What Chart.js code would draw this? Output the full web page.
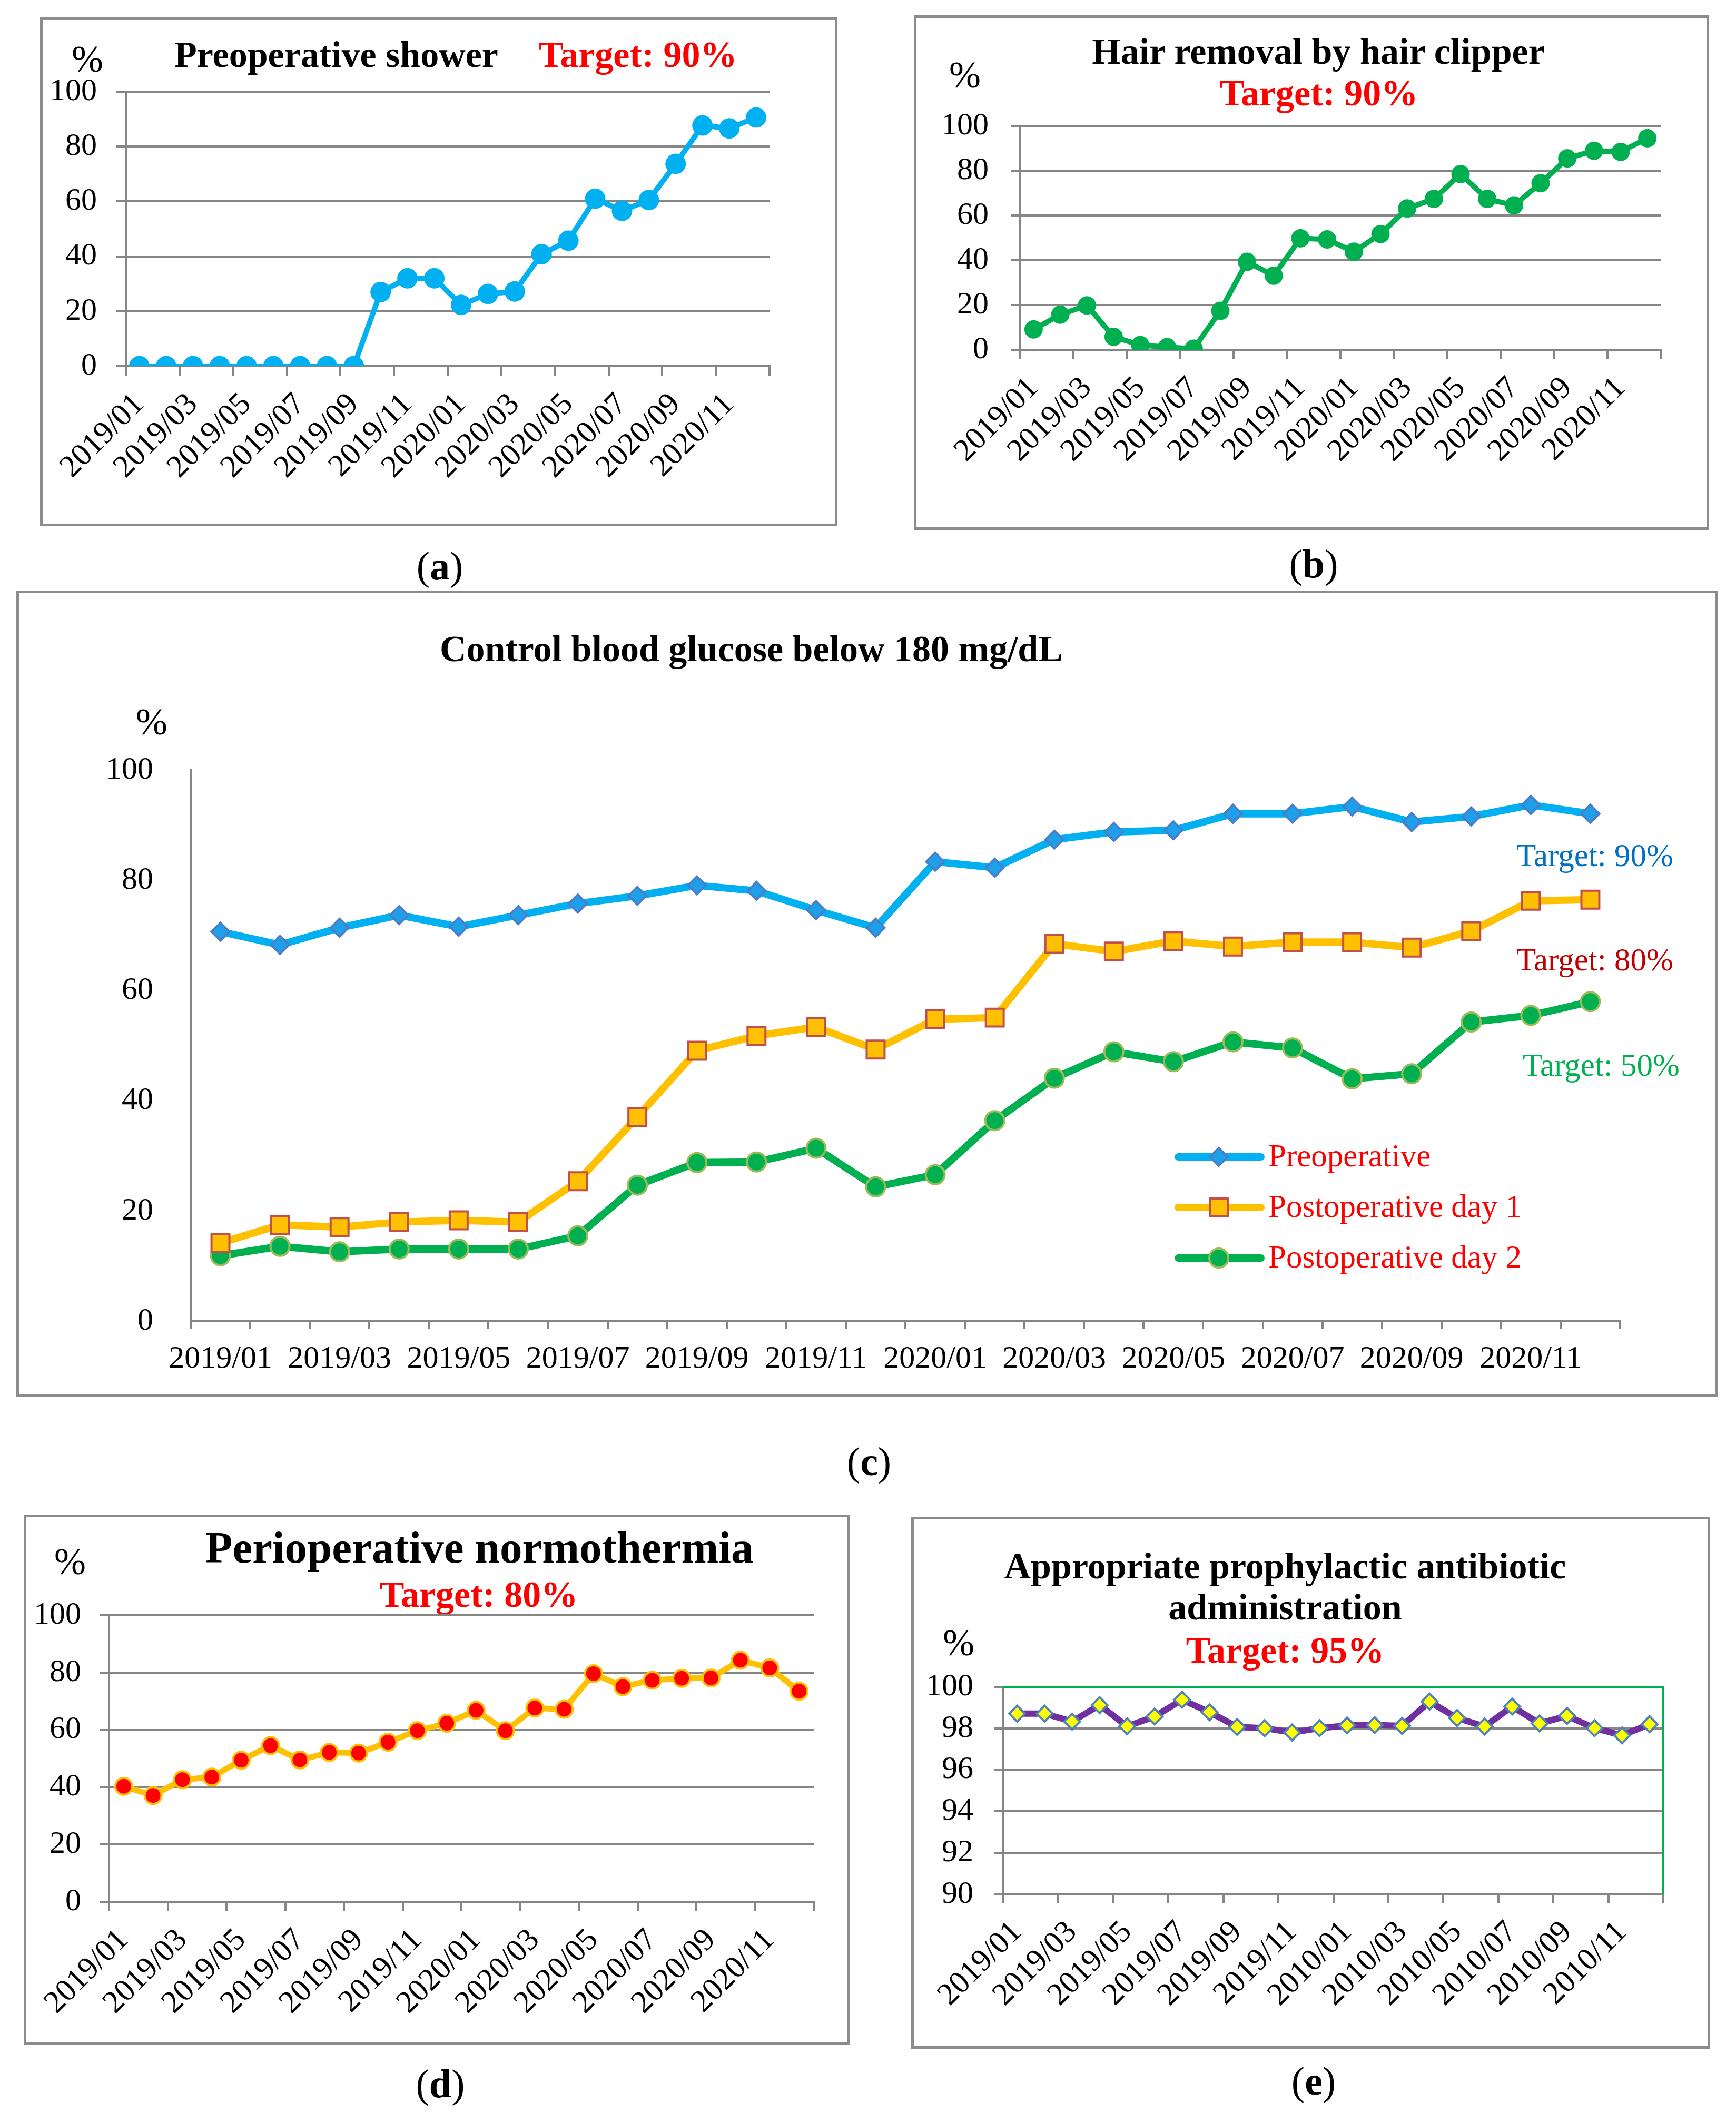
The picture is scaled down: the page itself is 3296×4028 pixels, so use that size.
<!DOCTYPE html>
<html>
<head>
<meta charset="utf-8">
<script src="https://cdn.jsdelivr.net/npm/chart.js"></script>
<style>
  body { margin: 0; background: #fff; }
  #page { position: relative; width: 3296px; height: 4028px; font-family: "Liberation Serif", "Times New Roman", serif; }
  .box { position: absolute; box-sizing: border-box; border: 5px solid #8c8c8c; }
  .txt { position: absolute; white-space: nowrap; line-height: 1; }
  canvas { position: absolute; }
</style>
</head>
<body>
<div id="page"></div>
<script>
// months on the x axis
const months = ['2019/01', '2019/02', '2019/03', '2019/04', '2019/05', '2019/06', '2019/07', '2019/08', '2019/09', '2019/10', '2019/11', '2019/12',
    '2020/01', '2020/02', '2020/03', '2020/04', '2020/05', '2020/06', '2020/07', '2020/08', '2020/09', '2020/10', '2020/11', '2020/12']
// panel (e) carries "2010" in its labels
const monthsE = ['2019/01', '2019/02', '2019/03', '2019/04', '2019/05', '2019/06', '2019/07', '2019/08', '2019/09', '2019/10', '2019/11', '2019/12',
    '2010/01', '2010/02', '2010/03', '2010/04', '2010/05', '2010/06', '2010/07', '2010/08', '2010/09', '2010/10', '2010/11', '2010/12']

const showerData = [0, 0, 0, 0, 0, 0, 0, 0, 0, 27.0, 32.0, 32.0, 22.3, 26.3, 27.2, 40.8, 45.7, 61.0, 56.6, 60.5, 73.7, 87.7, 86.6, 90.6]
const clipperData = [9.1, 15.7, 19.8, 5.8, 2.1, 1.2, 0.5, 17.4, 39.3, 33.1, 49.8, 49.3, 43.8, 51.7, 63.1, 67.4, 78.5, 67.4, 64.5, 74.4, 85.5, 88.9, 88.4, 94.5]
const glucosePre = [70.7, 68.3, 71.4, 73.7, 71.6, 73.7, 75.8, 77.2, 79.1, 78.1, 74.6, 71.4, 83.4, 82.3, 87.4, 88.8, 89.1, 92.1, 92.1, 93.4, 90.6, 91.6, 93.7, 92.1]
const glucoseDay1 = [14.2, 17.5, 17.1, 18.0, 18.3, 18.0, 25.4, 37.1, 49.1, 51.8, 53.4, 49.3, 54.8, 55.1, 68.5, 67.1, 69.0, 68.0, 68.8, 68.8, 67.8, 70.8, 76.3, 76.5]
const glucoseDay2 = [11.9, 13.6, 12.6, 13.1, 13.1, 13.1, 15.5, 24.7, 28.8, 28.9, 31.4, 24.4, 26.6, 36.4, 44.1, 48.9, 47.1, 50.7, 49.6, 44.0, 44.9, 54.3, 55.5, 58.0]
const normoData = [40.3, 37.1, 42.6, 43.5, 49.4, 54.5, 49.5, 52.1, 51.9, 55.7, 59.7, 62.3, 66.8, 59.7, 67.6, 67.2, 79.6, 75.1, 77.3, 78.0, 78.1, 84.3, 81.6, 73.5]
const antibioticData = [98.71, 98.71, 98.33, 99.12, 98.10, 98.57, 99.38, 98.78, 98.07, 98.01, 97.80, 98.01, 98.14, 98.16, 98.12, 99.29, 98.50, 98.09, 99.05, 98.24, 98.60, 98.01, 97.66, 98.20]

const glucoseNames = ['Preoperative', 'Postoperative day 1', 'Postoperative day 2']

const page = document.getElementById('page')
const GRAY = '#868686'
const FONT = '"Liberation Serif", "Times New Roman", serif'

function box(l, t, r, b) {
    const d = document.createElement('div')
    d.className = 'box'
    d.style.left = l + 'px'
    d.style.top = t + 'px'
    d.style.width = (r - l) + 'px'
    d.style.height = (b - t) + 'px'
    page.appendChild(d)
}

// x = left edge (or centre when center is true), base = baseline
function text(html, x, base, size, color, bold, center) {
    const d = document.createElement('div')
    d.className = 'txt'
    d.innerHTML = html
    d.style.fontSize = size + 'px'
    d.style.color = color || '#000'
    d.style.fontWeight = bold ? 'bold' : 'normal'
    d.style.top = (base - 0.8375 * size) + 'px'
    d.style.left = x + 'px'
    if (center) d.style.transform = 'translateX(-50%)'
    page.appendChild(d)
}

function canvasAt(l, t, r, b) {
    const c = document.createElement('canvas')
    c.width = r - l
    c.height = b - t
    c.style.left = l + 'px'
    c.style.top = t + 'px'
    c.style.width = (r - l) + 'px'
    c.style.height = (b - t) + 'px'
    page.appendChild(c)
    return c.getContext('2d')
}

// every other x tick mark, like the excel charts
const everyOther = ctx => (ctx.index === undefined || ctx.index % 2 === 0) ? GRAY : 'rgba(0,0,0,0)'

// chart.js keeps half a tick label + tick padding above the plot,
// so each canvas starts (36 + yPad) px above its plot top
function lineChart(ctx, cfg) {
    const rotated = cfg.rotated !== false
    return new Chart(ctx, {
        type: 'line',
        data: {
            labels: cfg.labels,
            datasets: cfg.datasets
        },
        options: {
            responsive: false,
            animation: false,
            devicePixelRatio: 1,
            layout: { padding: { top: 0, right: cfg.padRight, left: 0, bottom: 0 } },
            plugins: { legend: { display: false }, tooltip: { enabled: false } },
            scales: {
                x: {
                    offset: true,
                    grid: {
                        offset: true,
                        drawOnChartArea: false,
                        tickLength: cfg.xTick,
                        lineWidth: 4,
                        color: rotated ? everyOther : GRAY
                    },
                    border: { color: GRAY, width: 4 },
                    ticks: {
                        autoSkip: false,
                        minRotation: rotated ? 45 : 0,
                        maxRotation: rotated ? 45 : 0,
                        padding: cfg.xPad,
                        color: '#000',
                        font: { family: FONT, size: 60 },
                        callback: function (v, i) { return i % 2 === 0 ? this.getLabelForValue(v) : '' }
                    },
                    afterFit: s => { s.height = cfg.xHeight }
                },
                y: {
                    min: cfg.min,
                    max: cfg.max,
                    grid: {
                        display: cfg.yGrid !== false,
                        color: GRAY,
                        lineWidth: 4,
                        tickLength: 18
                    },
                    border: { color: GRAY, width: 4 },
                    ticks: {
                        autoSkip: false,
                        stepSize: cfg.step,
                        padding: cfg.yPad,
                        color: '#000',
                        font: { family: FONT, size: 60 }
                    },
                    afterFit: s => { s.width = cfg.yWidth }
                }
            }
        },
        plugins: cfg.plugins || []
    })
}

function series(label, data, line, width, style, radius, fill, border, bw) {
    return {
        label: label,
        data: data,
        borderColor: line,
        backgroundColor: line,
        borderWidth: width,
        borderJoinStyle: 'round',
        borderCapStyle: 'round',
        tension: 0,
        pointStyle: style,
        pointRadius: radius,
        pointBackgroundColor: fill,
        pointBorderColor: border,
        pointBorderWidth: bw
    }
}

function marker(c, style, x, y, r) {
    c.beginPath()
    if (style === 'circle') {
        c.arc(x, y, r, 0, Math.PI * 2)
    } else if (style === 'rect') {
        const s = r * Math.SQRT1_2
        c.rect(x - s, y - s, 2 * s, 2 * s)
    } else {
        c.moveTo(x, y - r); c.lineTo(x + r, y); c.lineTo(x, y + r); c.lineTo(x - r, y); c.closePath()
    }
    c.fill()
    c.stroke()
}

// ---------- (a) Preoperative shower ----------
box(76, 33, 1590, 999)
text('%', 166, 136, 72, '#000', false, true)
text('Preoperative shower', 331, 128, 70, '#000', true)
text('Target: 90%', 1023, 128, 70, '#ff0000', true)
text('(<b>a</b>)', 835, 1100, 76, '#000', false, true)
lineChart(canvasAt(80, 101, 1560, 990), {
    labels: months,
    datasets: [series('Preoperative shower', showerData, '#00B0F0', 10, 'circle', 19, '#00B0F0', '#00B0F0', 1)],
    min: 0, max: 100, step: 20,
    padRight: 99, yWidth: 159, xHeight: 295,
    yPad: 37, xTick: 18, xPad: 20
})

// ---------- (b) Hair removal by hair clipper ----------
box(1735, 29, 3245, 1006)
text('%', 1832, 166, 72, '#000', false, true)
text('Hair removal by hair clipper', 2503, 122, 70, '#000', true, true)
text('Target: 90%', 2504, 201, 70, '#ff0000', true, true)
text('(<b>b</b>)', 2494, 1096, 76, '#000', false, true)
lineChart(canvasAt(1740, 161, 3240, 1000), {
    labels: months,
    datasets: [series('Hair removal by hair clipper', clipperData, '#00B050', 10, 'circle', 17, '#00B050', '#00B050', 1)],
    min: 0, max: 100, step: 20,
    padRight: 87, yWidth: 197, xHeight: 336,
    yPad: 42, xTick: 18, xPad: 20
})

// ---------- (c) Control blood glucose ----------
box(31, 1121, 3262, 2652)
text('%', 288, 1394, 72, '#000', false, true)
text('Control blood glucose below 180 mg/dL', 835, 1256, 70, '#000', true)
text('Target: 90%', 2879, 1644, 61, '#0070C0')
text('Target: 80%', 2879, 1842, 61, '#C00000')
text('Target: 50%', 2891, 2042, 61, '#00B050')
text('(<b>c</b>)', 1650, 2800, 76, '#000', false, true)

const glucoseTop = 1373
const glucoseLegend = {
    id: 'glucoseLegend',
    afterDatasetsDraw(chart) {
        const c = chart.ctx
        chart.data.datasets.forEach((ds, i) => {
            const y = 2196 + i * 96 - glucoseTop
            c.save()
            c.strokeStyle = ds.borderColor
            c.lineWidth = ds.borderWidth
            c.lineCap = 'round'
            c.beginPath()
            c.moveTo(2197, y)
            c.lineTo(2354, y)
            c.stroke()
            c.fillStyle = ds.pointBackgroundColor
            c.strokeStyle = ds.pointBorderColor
            c.lineWidth = ds.pointBorderWidth
            marker(c, ds.pointStyle, 2274, y, ds.pointRadius)
            c.fillStyle = '#ff0000'
            c.font = '61px ' + FONT
            c.textBaseline = 'middle'
            c.fillText(ds.label, 2368, y + 2)
            c.restore()
        })
    }
}

lineChart(canvasAt(40, glucoseTop, 3250, 2640), {
    labels: months,
    datasets: [
        series(glucoseNames[0], glucosePre, '#00B0F0', 14, 'rectRot', 17, '#1E9FEA', '#4A7EC8', 4),
        series(glucoseNames[1], glucoseDay1, '#FFC000', 14, 'rect', 24, '#FFC000', '#C0504D', 4),
        series(glucoseNames[2], glucoseDay2, '#00B050', 14, 'circle', 18, '#00B050', '#9BBB59', 4)
    ],
    min: 0, max: 100, step: 20,
    padRight: 174, yWidth: 322, xHeight: 132,
    yPad: 53, xTick: 15, xPad: 21, rotated: false, yGrid: false,
    plugins: [glucoseLegend]
})

// ---------- (d) Perioperative normothermia ----------
box(45, 2875, 1614, 3882)
text('%', 133, 2988, 72, '#000', false, true)
text('Perioperative normothermia', 910, 2966, 85, '#000', true, true)
text('Target: 80%', 909, 3051, 70, '#ff0000', true, true)
text('(<b>d</b>)', 836, 3981, 76, '#000', false, true)
lineChart(canvasAt(50, 2995, 1600, 3870), {
    labels: months,
    datasets: [series('Perioperative normothermia', normoData, '#FFC000', 11, 'circle', 16, '#FF0000', '#FFC000', 4)],
    min: 0, max: 100, step: 20,
    padRight: 55, yWidth: 157, xHeight: 260,
    yPad: 35, xTick: 18, xPad: 20
})

// ---------- (e) Appropriate prophylactic antibiotic administration ----------
box(1730, 2879, 3247, 3889)
text('%', 1820, 3142, 72, '#000', false, true)
text('Appropriate prophylactic antibiotic', 2440, 2997, 70, '#000', true, true)
text('administration', 2440, 3075, 70, '#000', true, true)
text('Target: 95%', 2440, 3157, 70, '#ff0000', true, true)
text('(<b>e</b>)', 2494, 3976, 76, '#000', false, true)

const greenFrame = {
    id: 'greenFrame',
    beforeDatasetsDraw(chart) {
        const a = chart.chartArea
        const c = chart.ctx
        c.save()
        c.strokeStyle = '#00B050'
        c.lineWidth = 4
        c.beginPath()
        c.moveTo(a.left, a.top)
        c.lineTo(a.right, a.top)
        c.lineTo(a.right, a.bottom)
        c.stroke()
        c.restore()
    }
}

lineChart(canvasAt(1740, 3127, 3240, 3880), {
    labels: monthsE,
    datasets: [series('Appropriate prophylactic antibiotic administration', antibioticData, '#7030A0', 12, 'rectRot', 15, '#FFFF00', '#4F81BD', 4)],
    min: 90, max: 100, step: 2,
    padRight: 82, yWidth: 165, xHeight: 284,
    yPad: 39, xTick: 17, xPad: 20,
    plugins: [greenFrame]
})
</script>
</body>
</html>
